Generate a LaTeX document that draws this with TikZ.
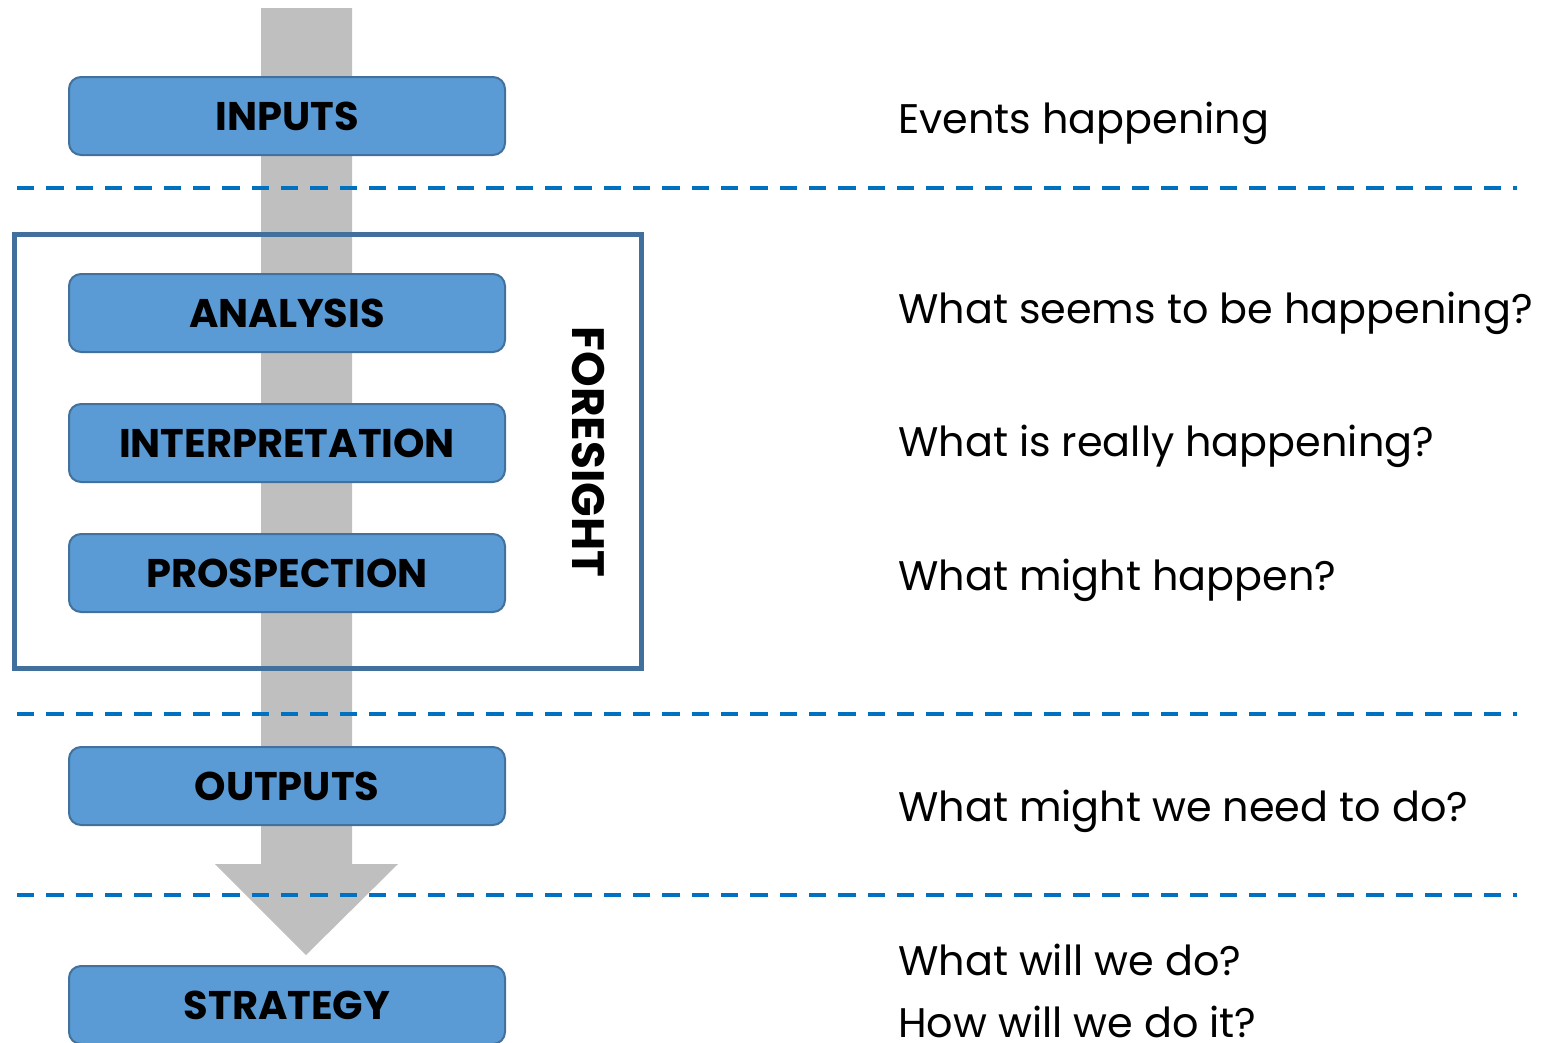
\documentclass[tikz,border=0pt]{standalone}
\usepackage{fontspec}
\setmainfont{Poppins}
\definecolor{boxfill}{HTML}{5B9BD5}
\definecolor{boxline}{HTML}{41719C}
\definecolor{framecol}{HTML}{41709C}
\definecolor{dashcol}{HTML}{0070C0}
\definecolor{arrowgray}{HTML}{BFBFBF}
\tikzset{
  stagebox/.style={draw=boxline, fill=boxfill, line width=1.5pt, rounded corners=9pt,
    minimum width=327pt, minimum height=58.5pt, inner sep=0pt,
    font=\fontsize{30}{34}\selectfont\bfseries},
  sep/.style={draw=dashcol, line width=3pt, dash pattern=on 13pt off 9pt},
  question/.style={anchor=base west, inner sep=0pt, font=\fontsize{31}{36}\selectfont},
}
\begin{document}
\begin{tikzpicture}[x=0.75pt,y=-0.75pt]
\useasboundingbox (0,0) rectangle (1552,1042);
% big gray arrow
\fill[arrowgray] (261,8) -- (352,8) -- (352,864) -- (398,864) -- (306,955) -- (215,864) -- (261,864) -- cycle;
% separators
\coordinate (s1a) at (17,188); \coordinate (s1b) at (1517,188);
\coordinate (s2a) at (17,714); \coordinate (s2b) at (1517,714);
\coordinate (s3a) at (17,895); \coordinate (s3b) at (1517,895);
\draw[sep] (s1a) -- (s1b);
\draw[sep] (s2a) -- (s2b);
\draw[sep] (s3a) -- (s3b);
% foresight frame
\node[draw=framecol, line width=3.75pt, minimum width=470.25pt, minimum height=325.5pt, inner sep=0pt] (frame) at (327.5,451) {};
\node[rotate=-90, font=\fontsize{34}{38}\selectfont\bfseries, inner sep=0pt] (fs) at (588,452) {FORESIGHT};
% stage boxes
\node[stagebox] (inputs) at (287,116) {INPUTS};
\node[stagebox] (analysis) at (287,313) {ANALYSIS};
\node[stagebox] (interp) at (287,443) {INTERPRETATION};
\node[stagebox] (prosp) at (287,573) {PROSPECTION};
\node[stagebox] (outputs) at (287,786) {OUTPUTS};
\node[stagebox] (strategy) at (287,1005) {STRATEGY};
% questions
\node[question] (q1) at (898,133) {Events happening};
\node[question] (q2) at (898,323) {What seems to be happening?};
\node[question] (q3) at (898,456) {What is really happening?};
\node[question] (q4) at (898,590) {What might happen?};
\node[question] (q5) at (898,821) {What might we need to do?};
\node[question] (q6) at (898,975) {What will we do?};
\node[question] (q7) at (898,1037) {How will we do it?};
\end{tikzpicture}
\end{document}
